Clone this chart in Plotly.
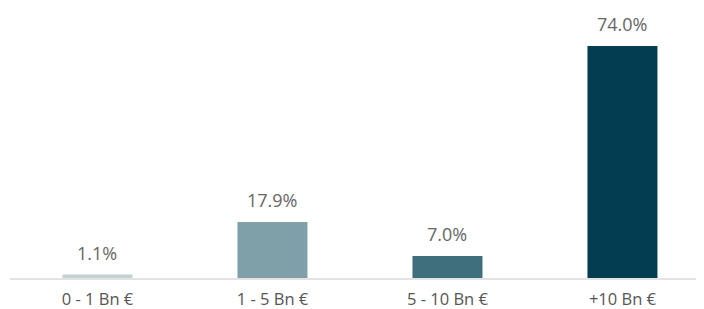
import plotly.graph_objects as go

categories = ["0 - 1 Bn €", "1 - 5 Bn €", "5 - 10 Bn €", "+10 Bn €"]
values = [1.1, 17.9, 7.0, 74.0]
labels = ["1.1%", "17.9%", "7.0%", "74.0%"]
colors = ["#c3d0d4", "#7fa0a8", "#3f6e7c", "#023d51"]

FONT = "Open Sans, Noto Sans, sans-serif"

fig = go.Figure()
fig.add_trace(go.Bar(x=categories, y=values, marker=dict(color=colors, line=dict(width=0)),
                     width=0.4, hoverinfo="skip"))
for c, v, t in zip(categories, values, labels):
    fig.add_annotation(x=c, y=v, text=t, showarrow=False, yanchor="bottom", yshift=8,
                       font=dict(family=FONT, size=18, color="#666666"))

# page body has an 8px margin, so the figure is sized to fit the 704x309 window
fig.update_layout(
    width=696, height=301,
    margin=dict(l=2, r=0, t=2, b=31, autoexpand=False),
    plot_bgcolor="white", paper_bgcolor="white",
    showlegend=False,
)
fig.update_xaxes(range=[-0.5, 3.466], showline=True, linecolor="#e3e3e3", linewidth=2,
                 ticks="outside", ticklen=5, tickcolor="rgba(0,0,0,0)",
                 tickfont=dict(family=FONT, size=16.5, color="#555555"),
                 showgrid=False, fixedrange=True, automargin=False)
fig.update_yaxes(range=[0, 85.5], visible=False, showgrid=False, zeroline=False)

fig.write_html("out.html")
